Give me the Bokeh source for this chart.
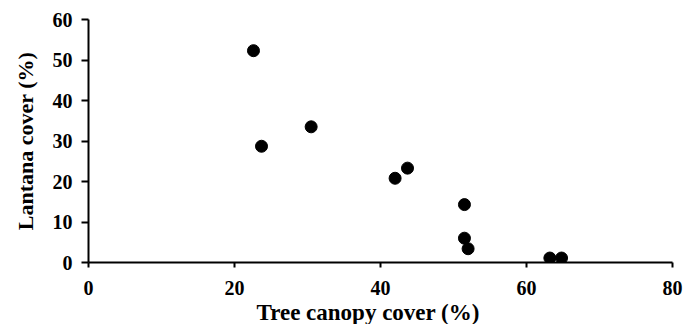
from bokeh.plotting import figure
from bokeh.models import Range1d, SingleIntervalTicker, Title
from bokeh.embed import file_html
from bokeh.resources import INLINE

tree_canopy = [22.6, 23.7, 30.5, 42.0, 43.7, 51.5, 51.5, 52.0, 63.2, 64.8]
lantana = [52.3, 28.7, 33.5, 20.8, 23.3, 14.3, 6.0, 3.4, 1.1, 1.1]
x_title = "Tree canopy cover (%)"
y_title = "Lantana cover (%)"

p = figure(width=683, height=324, output_backend="svg", toolbar_location=None,
           x_range=Range1d(0, 80), y_range=Range1d(0, 60),
           min_border_left=88, min_border_right=11, min_border_top=19, min_border_bottom=62)
p.outline_line_color = None
p.grid.visible = False
p.background_fill_color = "white"
p.border_fill_color = "white"

p.scatter(tree_canopy, lantana, size=12, color="black", marker="circle")

font = "Liberation Serif"
p.xaxis.ticker = SingleIntervalTicker(interval=20)
p.yaxis.ticker = SingleIntervalTicker(interval=10)
for ax in (p.xaxis[0], p.yaxis[0]):
    ax.axis_line_width = 2
    ax.axis_line_color = "black"
    ax.major_tick_line_width = 2
    ax.major_tick_line_color = "black"
    ax.major_tick_in = 0
    ax.minor_tick_line_color = None
    ax.major_label_text_font = font
    ax.major_label_text_font_style = "bold"
    ax.major_label_text_font_size = "20px"
    ax.major_label_text_color = "black"
    ax.axis_label_text_font = font
    ax.axis_label_text_font_style = "bold"
    ax.axis_label_text_font_size = "22px"
    ax.axis_label_text_color = "black"

p.xaxis.major_tick_out = 5
p.xaxis.major_label_standoff = 13

p.yaxis.major_tick_out = 7
p.yaxis.major_label_standoff = 9
p.yaxis.axis_label = y_title
p.yaxis.axis_label_standoff = 12

# x-axis title, set slightly left of centre as in the reference
p.add_layout(Title(text=x_title, align="left", offset=168, standoff=0,
                   text_font=font, text_font_style="bold",
                   text_font_size="23px", text_color="black"), "below")

open("out.html", "w").write(file_html(p, INLINE))
